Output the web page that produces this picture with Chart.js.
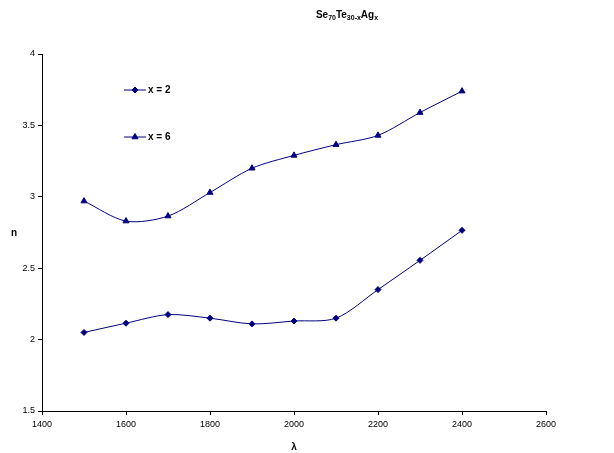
<!DOCTYPE html>
<html><head><meta charset="utf-8">
<script src="https://cdn.jsdelivr.net/npm/chart.js@4"></script>
<style>html,body{margin:0;padding:0;background:#fff}#w{width:614px;height:453px}</style>
</head><body><div id="w"><canvas id="c" width="614" height="453"></canvas></div>
<script>
const lambda = [1500, 1600, 1700, 1800, 1900, 2000, 2100, 2200, 2300, 2400];
const nX2 = [2.05, 2.115, 2.175, 2.15, 2.11, 2.13, 2.15, 2.35, 2.555, 2.765];
const nX6 = [2.97, 2.83, 2.865, 3.03, 3.20, 3.29, 3.365, 3.43, 3.59, 3.74];
const seriesNames = ['x = 2', 'x = 6'];
const xTicks = [1400, 1600, 1800, 2000, 2200, 2400, 2600];
const yTicks = [1.5, 2, 2.5, 3, 3.5, 4];

const NAVY = '#000080';
const FONT = '"Liberation Sans", Arial, sans-serif';

const extras = {
  id: 'extras',
  afterDraw(chart) {
    const ctx = chart.ctx;
    ctx.save();
    ctx.fillStyle = '#000';
    const parts = [['Se', 0], ['70', 1], ['Te', 0], ['30-x', 1], ['Ag', 0], ['x', 1]];
    const big = 'bold 10px ' + FONT, small = 'bold 7px ' + FONT;
    let total = 0;
    parts.forEach(([t, s]) => { ctx.font = s ? small : big; total += ctx.measureText(t).width; });
    let x = 347 - total / 2;
    const by = 18;
    ctx.textBaseline = 'alphabetic';
    ctx.textAlign = 'left';
    parts.forEach(([t, s]) => {
      ctx.font = s ? small : big;
      ctx.fillText(t, x, s ? by + 2 : by);
      x += ctx.measureText(t).width;
    });
    ctx.font = 'bold 10px ' + FONT;
    ctx.textAlign = 'center';
    ctx.textBaseline = 'middle';
    ctx.fillText('n', 14, 233);
    ctx.fillText('λ', 294, 447);
    const ly = [90, 137];
    chart.data.datasets.forEach((ds, i) => {
      ctx.strokeStyle = NAVY;
      ctx.lineWidth = 1;
      ctx.beginPath();
      ctx.moveTo(124, ly[i]);
      ctx.lineTo(146, ly[i]);
      ctx.stroke();
      ctx.fillStyle = NAVY;
      Chart.helpers.drawPoint(ctx, {
        pointStyle: ds.pointStyle, radius: ds.pointRadius, rotation: 0, borderWidth: 1
      }, 135, ly[i]);
      ctx.fillStyle = '#000';
      ctx.font = 'bold 10px ' + FONT;
      ctx.textAlign = 'left';
      ctx.fillText(ds.label, 148, ly[i] + 0.5);
    });
    ctx.restore();
  }
};

new Chart(document.getElementById('c'), {
  type: 'line',
  data: {
    datasets: [
      { label: seriesNames[0], data: lambda.map((l, i) => ({ x: l, y: nX2[i] })),
        borderColor: NAVY, backgroundColor: NAVY, borderWidth: 1,
        pointStyle: 'rectRot', pointRadius: 3, tension: 0.3 },
      { label: seriesNames[1], data: lambda.map((l, i) => ({ x: l, y: nX6[i] })),
        borderColor: NAVY, backgroundColor: NAVY, borderWidth: 1,
        pointStyle: 'triangle', pointRadius: 3.5, tension: 0.3 }
    ]
  },
  options: {
    responsive: false,
    animation: false,
    layout: { padding: { left: 0, top: 54, right: 68, bottom: 0 } },
    plugins: { legend: { display: false }, title: { display: false }, tooltip: { enabled: false } },
    scales: {
      x: {
        type: 'linear', min: 1400, max: 2600,
        afterBuildTicks: s => { s.ticks = xTicks.map(v => ({ value: v })); },
        afterFit: s => { s.height = 42; },
        border: { color: '#000', width: 1 },
        grid: { drawOnChartArea: false, color: '#000', tickLength: 4 },
        ticks: { color: '#000', font: { family: FONT, size: 9 }, padding: 4, maxRotation: 0,
          callback: v => String(v) }
      },
      y: {
        type: 'linear', min: 1.5, max: 4,
        afterBuildTicks: s => { s.ticks = yTicks.map(v => ({ value: v })); },
        afterFit: s => { s.width = 42; },
        border: { color: '#000', width: 1 },
        grid: { drawOnChartArea: false, color: '#000', tickLength: 4 },
        ticks: { color: '#000', font: { family: FONT, size: 9 }, padding: 3,
          callback: v => String(v) }
      }
    }
  },
  plugins: [extras]
});
</script>
</body></html>
